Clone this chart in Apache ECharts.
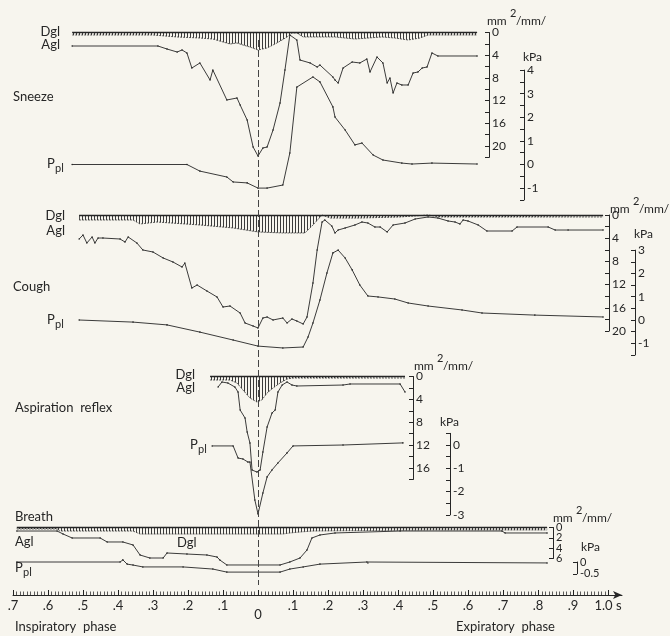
<!DOCTYPE html>
<html><head><meta charset="utf-8">
<script src="https://cdn.jsdelivr.net/npm/echarts@6/dist/echarts.min.js"></script>
<style>html,body{margin:0;padding:0;background:#f7f5ee}#c{width:670px;height:636px}</style>
</head><body><div id="c"></div>
<script>
// ---------- DATA (time in s, glottal values in mm²/mm, pleural pressure in kPa) ----------
const sneezeDgl = [[-0.531,0.44],[-0.300,0.44],[-0.231,0.79],[-0.166,0.97],[-0.129,1.15],[-0.100,1.67],[-0.080,2.03],[-0.060,1.85],[-0.043,2.20],[-0.023,2.56],[0,3.08],[0.026,2.73],[0.054,1.85],[0.083,0.79],[0.097,0.09],[0.111,0.09],[0.129,0.79],[0.157,0.79],[0.220,0.79],[0.277,1.15],[0.354,0.79],[0.391,0.97],[0.429,1.32],[0.463,0.97],[0.486,0.44],[0.626,0.44]];
const sneezeAgl = [[-0.531,2.38],[-0.286,2.38],[-0.260,2.91],[-0.231,3.44],[-0.217,3.08],[-0.203,3.61],[-0.189,6.26],[-0.166,5.37],[-0.137,8.37],[-0.129,6.61],[-0.089,11.89],[-0.060,11.54],[-0.051,12.78],[-0.031,15.42],[-0.014,20.18],[0,21.76],[0.014,20.35],[0.026,20.18],[0.043,17.18],[0.063,12.42],[0.077,6.61],[0.091,0.44],[0.111,1.32],[0.120,4.85],[0.149,5.37],[0.169,6.08],[0.177,5.73],[0.214,7.84],[0.220,8.37],[0.229,8.90],[0.243,6.26],[0.269,5.20],[0.291,5.37],[0.311,4.67],[0.320,6.96],[0.340,4.32],[0.357,5.37],[0.369,8.90],[0.377,8.02],[0.386,10.66],[0.397,8.90],[0.411,9.25],[0.429,9.25],[0.443,7.14],[0.457,6.96],[0.469,6.26],[0.483,6.08],[0.497,3.61],[0.514,4.14],[0.626,4.14]];
const sneezePpl = [[-0.531,0],[-0.203,0],[-0.166,-0.28],[-0.089,-0.53],[-0.071,-0.74],[-0.031,-0.78],[0,-1.0],[0.026,-1.0],[0.071,-0.87],[0.091,0.49],[0.111,3.28],[0.157,3.71],[0.177,3.50],[0.214,2.44],[0.220,2.01],[0.249,1.46],[0.277,0.83],[0.297,0.91],[0.329,0.40],[0.357,0.19],[0.411,0.06],[0.440,0.02],[0.497,0.06],[0.626,0.02]];

const coughDgl = [[-0.511,0.86],[-0.357,0.86],[-0.337,1.55],[-0.289,1.21],[-0.166,1.72],[-0.071,2.24],[0,2.93],[0.071,3.10],[0.134,3.10],[0.157,1.72],[0.183,0],[0.206,0.52],[0.291,0.52],[0.406,0.34],[0.486,0],[0.520,0.34],[0.986,0.34]];
const coughAgl = [[-0.511,4.14],[-0.500,3.45],[-0.489,4.83],[-0.474,3.79],[-0.466,4.83],[-0.457,3.97],[-0.443,3.97],[-0.394,4.14],[-0.380,4.66],[-0.371,3.79],[-0.346,4.83],[-0.329,6.03],[-0.300,6.38],[-0.271,7.41],[-0.243,8.10],[-0.217,8.97],[-0.209,8.28],[-0.189,12.59],[-0.174,12.07],[-0.146,13.10],[-0.117,14.14],[-0.100,15.86],[-0.080,15.69],[-0.051,16.90],[-0.037,18.62],[-0.014,19.14],[0,19.48],[0.014,17.76],[0.026,17.59],[0.043,18.10],[0.071,17.76],[0.083,18.62],[0.097,17.93],[0.111,18.28],[0.129,18.79],[0.140,17.59],[0.157,11.72],[0.169,6.03],[0.183,1.21],[0.191,0.86],[0.211,1.90],[0.220,3.10],[0.229,2.59],[0.249,2.24],[0.277,1.72],[0.297,1.21],[0.314,1.38],[0.334,2.07],[0.349,2.07],[0.369,2.93],[0.386,1.72],[0.420,1.38],[0.449,0.69],[0.486,0.34],[0.514,0.52],[0.543,1.03],[0.563,1.21],[0.577,1.55],[0.586,0.86],[0.600,1.03],[0.629,1.72],[0.654,2.76],[0.726,2.76],[0.740,2.07],[0.829,2.07],[0.849,2.59],[0.886,2.59],[0.986,2.59]];
const coughPpl = [[-0.511,0],[-0.357,-0.09],[-0.260,-0.21],[-0.166,-0.52],[-0.071,-0.86],[0,-1.12],[0.071,-1.20],[0.129,-1.16],[0.143,-0.73],[0.157,-0.13],[0.177,0.86],[0.197,2.02],[0.214,2.88],[0.229,3.0],[0.249,2.66],[0.269,2.15],[0.291,1.50],[0.314,1.03],[0.343,0.99],[0.391,0.90],[0.429,0.73],[0.486,0.60],[0.583,0.43],[0.640,0.30],[0.791,0.21],[0.986,0.13]];

const aspDgl = [[-0.137,0.61],[-0.080,0.61],[-0.060,1.14],[-0.043,2.36],[-0.023,3.76],[-0.003,4.46],[0.011,4.11],[0.026,2.88],[0.043,2.01],[0.063,1.14],[0.083,0.44],[0.100,0.26],[0.420,0.26]];
const aspAgl = [[-0.114,1.84],[-0.103,0.96],[-0.086,1.14],[-0.066,1.84],[-0.057,2.71],[-0.051,5.86],[-0.037,7.26],[-0.031,9.70],[-0.023,11.63],[-0.017,16.35],[-0.003,16.70],[0.006,16.35],[0.014,13.20],[0.026,8.83],[0.040,6.38],[0.049,5.86],[0.057,2.71],[0.069,1.49],[0.083,0.96],[0.097,1.49],[0.111,1.66],[0.243,1.49],[0.263,1.31],[0.406,1.31],[0.420,2.71]];
const aspPpl = [[-0.131,-0.04],[-0.071,-0.04],[-0.057,-0.56],[-0.043,-0.60],[-0.029,-0.73],[-0.023,-0.73],[-0.009,-2.36],[0,-2.96],[0.014,-2.06],[0.026,-1.37],[0.040,-1.07],[0.057,-0.77],[0.083,-0.34],[0.100,-0.04],[0.243,0],[0.414,0.09]];

const breathDgl = [[-0.689,0.29],[-0.574,0.29],[-0.566,0.68],[-0.357,0.68],[-0.337,1.26],[0.071,1.26],[0.091,1.06],[0.120,0.87],[0.157,0.68],[0.500,0.48],[0.826,0.48]];
const breathAgl = [[-0.689,0.68],[-0.574,0.68],[-0.557,1.26],[-0.531,2.03],[-0.451,2.03],[-0.431,2.80],[-0.386,2.80],[-0.357,3.38],[-0.337,5.32],[-0.309,5.90],[-0.271,5.90],[-0.260,4.93],[-0.203,5.13],[-0.146,5.32],[-0.117,5.71],[-0.109,6.29],[-0.089,7.25],[0.063,7.25],[0.091,6.67],[0.120,5.90],[0.140,4.35],[0.154,2.03],[0.177,1.45],[0.220,1.06],[0.406,0.68],[0.697,0.68],[0.706,1.06],[0.826,1.06]];
const breathPpl = [[-0.689,0],[-0.394,0],[-0.386,0.09],[-0.374,-0.09],[-0.357,-0.13],[-0.329,-0.21],[-0.214,-0.21],[-0.129,-0.30],[-0.089,-0.43],[0.063,-0.43],[0.091,-0.30],[0.129,-0.21],[0.177,-0.09],[0.311,0],[0.314,-0.04],[0.826,-0.04]];

const timeMin = -0.7, timeMax = 1.04, timeStep = 0.1, timeLabelMax = 1.0;

// ---------- LAYOUT ----------
const W = 670, H = 636;
const T0PX = 258, PXPS = 350;          // pixel of t=0, pixels per second
const AXIS_Y = 595;
const FONT = 'Lato, "Open Sans", sans-serif';
const INK = '#262626';
const panels = [
  {dgl: sneezeDgl, agl: sneezeAgl, ppl: sneezePpl,
   mm: {x: 489, y0: 32.5, k: 5.675, max: 22, step: 2, lab: 4},
   kpa:{x: 524, y0: 164.5, k: 23.6, min: -1.5, max: 4, step: 0.5}},
  {dgl: coughDgl, agl: coughAgl, ppl: coughPpl,
   mm: {x: 609, y0: 215, k: 5.8, max: 20, step: 2, lab: 4},
   kpa:{x: 635, y0: 320, k: 23.3, min: -1.5, max: 3, step: 0.5}},
  {dgl: aspDgl, agl: aspAgl, ppl: aspPpl,
   mm: {x: 413, y0: 376.5, k: 5.72, max: 18, step: 2, lab: 4},
   kpa:{x: 450, y0: 445, k: 23.3, min: -3, max: 0.5, step: 0.5}},
  {dgl: breathDgl, agl: breathAgl, ppl: breathPpl,
   mm: {x: 553, y0: 527.5, k: 5.17, max: 6, step: 2, lab: 2, small: true, split: true},
   kpa:{x: 577, y0: 562, k: 23.5, min: -0.5, max: 0, step: 0.5, half: true, small: true}}
];

// hatch pattern for Dgl
const hc = document.createElement('canvas'); hc.width = 3; hc.height = 4;
const hx = hc.getContext('2d'); hx.fillStyle = '#3a3a3a'; hx.fillRect(1, 0, 1, 4);

const grids = [], xAxes = [], yAxes = [], series = [];
function tAt(px){ return (px - T0PX) / PXPS; }
function addGrid(axisX, top, height){
  const gi = grids.length;
  grids.push({left: T0PX + timeMin * PXPS, right: W - axisX, top: top, height: height});
  xAxes.push({gridIndex: gi, type: 'value', min: timeMin, max: tAt(axisX), show: false});
  return gi;
}
const near = (v, s) => Math.abs(v / s - Math.round(v / s)) < 1e-6;
function yAx(gi, o){
  return Object.assign({
    gridIndex: gi, type: 'value', position: 'right',
    axisLine: {show: true, onZero: false, lineStyle: {color: INK, width: 1}},
    axisTick: {show: true, inside: true, length: 4, lineStyle: {color: INK, width: 1}},
    splitLine: {show: false}
  }, o);
}
function lab(small, fmt){
  return {show: true, showMinLabel: true, showMaxLabel: true, hideOverlap: false,
    margin: 3, color: INK, fontFamily: FONT, fontSize: small ? 11 : 12,
    formatter: fmt};
}
const lineBase = {type: 'line', symbol: 'circle', symbolSize: 1.6, showSymbol: true, clip: false,
  animation: false, silent: true, itemStyle: {color: INK},
  lineStyle: {color: INK, width: 0.9}};

panels.forEach(p => {
  const m = p.mm, q = p.kpa;
  const g1 = addGrid(m.x, m.y0, m.max * m.k);
  if (m.split) {
    // closely packed labels: alternate them over two coincident axes so none is dropped
    yAxes.push(yAx(g1, {inverse: true, min: 0, max: m.max, interval: m.step,
      axisLabel: lab(true, v => near(v, 2 * m.lab) ? String(Math.round(v)) : '')}));
    const g1b = addGrid(m.x, m.y0, m.max * m.k);
    yAxes.push(yAx(g1b, {inverse: true, min: 0, max: m.max, interval: m.step,
      axisLine: {show: false, onZero: false}, axisTick: {show: false},
      axisLabel: lab(true, v => (near(v, m.lab) && !near(v, 2 * m.lab)) ? String(Math.round(v)) : '')}));
  } else {
    yAxes.push(yAx(g1, {inverse: true, min: 0, max: m.max, interval: m.step,
      axisLabel: lab(m.small, v => near(v, m.lab) ? String(Math.round(v)) : '')}));
  }
  const g2 = addGrid(q.x, q.y0 - q.max * q.k, (q.max - q.min) * q.k);
  yAxes.push(yAx(g2, {min: q.min, max: q.max, interval: q.step,
    axisLabel: lab(q.small, v => q.half ? (Math.abs(v) < 1e-9 ? '0' : String(v)) : (near(v, 1) ? String(Math.round(v)) : ''))}));
  const t0 = p.dgl[0][0], t1 = p.dgl[p.dgl.length - 1][0];
  series.push(Object.assign({}, lineBase, {
    xAxisIndex: g1, yAxisIndex: g1, data: p.dgl, showSymbol: false,
    lineStyle: {color: '#3a3a3a', width: 0.8, type: [2, 1]},
    areaStyle: {color: {image: hc, repeat: 'repeat'}, origin: 'start', opacity: 1},
    markLine: {silent: true, symbol: ['none', 'none'], label: {show: false}, animation: false,
      lineStyle: {color: INK, width: 1.3, type: 'solid'},
      data: [[{coord: [t0, 0]}, {coord: [t1, 0]}]]}
  }));
  series.push(Object.assign({}, lineBase, {xAxisIndex: g1, yAxisIndex: g1, data: p.agl}));
  series.push(Object.assign({}, lineBase, {xAxisIndex: g2, yAxisIndex: g2, data: p.ppl}));
});

// time axis grid (also carries the dashed t=0 reference line)
const gLeft = T0PX + timeMin * PXPS, gRight = W - (T0PX + timeMax * PXPS);
const ga = grids.length;
grids.push({left: gLeft, right: gRight, top: 40, bottom: H - AXIS_Y});
xAxes.push({gridIndex: ga, type: 'value', min: timeMin, max: timeMax, interval: timeStep, position: 'bottom',
  axisLine: {show: true, onZero: false, symbol: ['none', 'arrow'], symbolSize: [6, 9], lineStyle: {color: INK, width: 1}},
  axisTick: {show: false},
  splitLine: {show: false},
  axisLabel: {margin: 4, color: INK, fontFamily: FONT, fontSize: 13, hideOverlap: false,
    formatter: v => {
      const r = Math.round(v * 10);
      if (Math.abs(v * 10 - r) > 1e-6 || v > timeLabelMax + 1e-6) return '';
      if (r === 0) return '{z|0}';
      if (r === 10) return '1.0 s';
      return '.' + Math.abs(r);
    },
    rich: {z: {padding: [9, 0, 0, 0], fontFamily: FONT, fontSize: 13, color: INK}}}
});
yAxes.push({gridIndex: ga, type: 'value', min: 0, max: 1, show: false});
series.push({type: 'line', xAxisIndex: ga, yAxisIndex: yAxes.length - 1, data: [], silent: true, animation: false,
  markLine: {silent: true, symbol: ['none', 'none'], label: {show: false}, animation: false,
    lineStyle: {color: '#444', width: 1, type: [7, 3]},
    data: [[{coord: [0, 1]}, {coord: [0, 0.018]}]]}});

// dense tick comb above the time axis: thin grids whose split lines are the ticks
function tickComb(height, minor){
  const gi = grids.length;
  grids.push({left: gLeft, right: W - (T0PX + timeLabelMax * PXPS) - 0.5, top: AXIS_Y - height, height: height});
  xAxes.push({gridIndex: gi, type: 'value', min: timeMin, max: timeLabelMax, interval: timeStep,
    axisLine: {show: false}, axisTick: {show: false}, axisLabel: {show: false},
    splitLine: {show: !minor, lineStyle: {color: '#222', width: 1}},
    minorSplitLine: {show: minor, lineStyle: {color: '#333', width: 0.8}},
    minorTick: {show: false, splitNumber: 10}});
  yAxes.push({gridIndex: gi, type: 'value', min: 0, max: 1, show: false});
}
tickComb(5, false);
tickComb(3.5, true);

// ---------- TEXT ----------
const texts = [];
function txt(s, x, y, opt){
  texts.push({type: 'text', x: x, y: y, silent: true, z: 10,
    style: Object.assign({text: s, fill: INK, font: '13px ' + FONT, align: 'left', verticalAlign: 'middle'}, opt || {})});
}
function ppl(x, y){ txt('P', x, y); txt('pl', x + 8, y + 4, {font: '11px ' + FONT}); }
function units(mx, my, kx, ky){
  txt('mm', mx, my, {font: '12px ' + FONT});
  txt('2', mx + 23, my - 8, {font: '11px ' + FONT});
  txt('/mm/', mx + 29, my, {font: '12px ' + FONT});
  txt('kPa', kx, ky, {font: '12px ' + FONT});
}
// Sneeze
txt('Dgl', 60, 32, {align: 'right'}); txt('Agl', 60, 45, {align: 'right'});
txt('Sneeze', 13, 97); ppl(47, 164); units(487, 21, 523, 57);
// Cough
txt('Dgl', 65, 216, {align: 'right'}); txt('Agl', 65, 231, {align: 'right'});
txt('Cough', 13, 287); ppl(47, 320); units(610, 209, 634, 234);
// Aspiration reflex
txt('Dgl', 195, 375, {align: 'right'}); txt('Agl', 195, 388, {align: 'right'});
txt('Aspiration  reflex', 15, 408); ppl(190, 445); units(414, 366, 440, 422);
// Breath
txt('Breath', 15, 517); txt('Agl', 15, 542); txt('Dgl', 177, 543); ppl(15, 568);
units(553, 518, 581, 547);
// phases
txt('Inspiratory  phase', 15, 627); txt('Expiratory  phase', 456, 627);

const chart = echarts.init(document.getElementById('c'), null, {renderer: 'canvas'});
chart.setOption({
  backgroundColor: '#f7f5ee', animation: false,
  grid: grids, xAxis: xAxes, yAxis: yAxes, series: series, graphic: texts
});
</script></body></html>
